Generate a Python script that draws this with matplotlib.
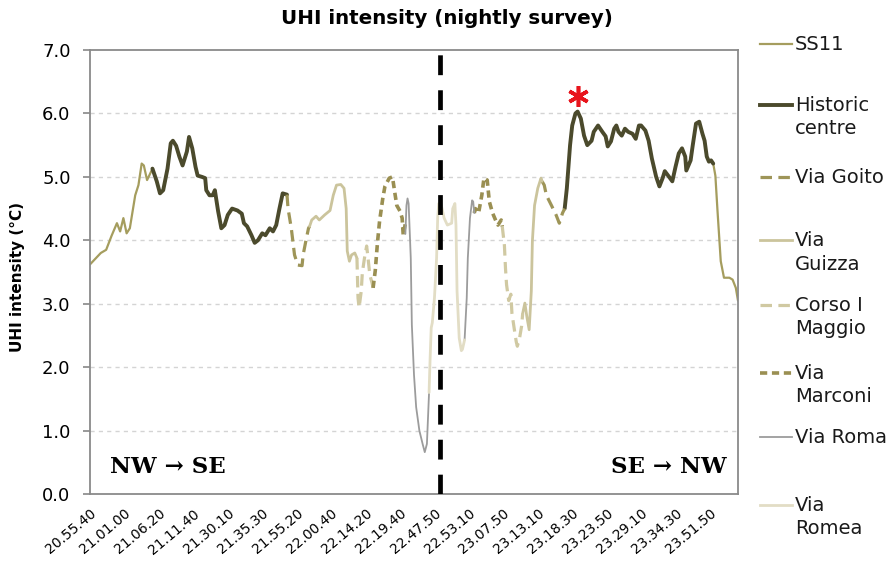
import numpy as np
import matplotlib
matplotlib.use("Agg")
import matplotlib.pyplot as plt
from matplotlib.lines import Line2D

nan = np.nan

# sample index (10 s steps) -> tick labels every 32 samples
tick_labels = ["20.55.40", "21.01.00", "21.06.20", "21.11.40", "21.30.10",
               "21.35.30", "21.55.20", "22.00.40", "22.14.20", "22.19.40",
               "22.47.50", "22.53.10", "23.07.50", "23.13.10", "23.18.30",
               "23.23.50", "23.29.10", "23.34.30", "23.51.50"]
n_samples = 602
divider_idx = 325

# each series: sample index / UHI value, NaN separates the outward and return leg
ss11_x = [0, 10, 15, 20, 25, 28, 31, 34, 37, 42, 45, 48, 50, 53, 55, 58,
          nan, 579, 581, 583, 586, 589, 594, 597, 600, 602]
ss11_y = [3.62, 3.8, 3.85, 4.07, 4.27, 4.14, 4.35, 4.11, 4.19, 4.71, 4.87, 5.21, 5.18, 4.95, 5.02, 5.13,
          nan, 5.21, 5.02, 4.46, 3.67, 3.41, 3.41, 3.38, 3.25, 3.05]

hist_x = [58, 62, 65, 68, 72, 75, 77, 80, 83, 86, 90, 92, 95, 98, 100, 104, 107, 108, 111, 114,
          116, 119, 122, 125, 128, 132, 137, 141, 143, 146, 150, 153, 156, 160, 163, 167, 170,
          173, 176, 179, 183,
          nan, 441, 443, 446, 448, 451, 453, 456, 459, 462, 466, 468, 472, 476, 479, 481, 484,
          487, 489, 491, 494, 497, 500, 504, 507, 510, 512, 516, 519, 522, 526, 529, 532, 534,
          538, 541, 544, 547, 550, 553, 554, 558, 560, 563, 566, 569, 571, 573, 575, 577, 579]
hist_y = [5.13, 4.93, 4.74, 4.79, 5.13, 5.53, 5.57, 5.49, 5.32, 5.18, 5.40, 5.63, 5.45, 5.16, 5.02,
          5.0, 4.98, 4.79, 4.71, 4.71, 4.79, 4.46, 4.19, 4.24, 4.40, 4.5, 4.47, 4.42, 4.27, 4.22,
          4.08, 3.96, 4.0, 4.11, 4.08, 4.19, 4.14, 4.24, 4.5, 4.74, 4.72,
          nan, 4.5, 4.82, 5.5, 5.81, 6.0, 6.03, 5.92, 5.65, 5.5, 5.57, 5.71, 5.81, 5.71, 5.64, 5.48,
          5.56, 5.76, 5.81, 5.71, 5.65, 5.76, 5.71, 5.68, 5.6, 5.81, 5.81, 5.73, 5.57, 5.29, 5.0,
          4.85, 4.98, 5.09, 5.0, 4.93, 5.16, 5.37, 5.45, 5.32, 5.1, 5.26, 5.5, 5.84, 5.87, 5.68,
          5.57, 5.32, 5.24, 5.26, 5.21]

goito_x = [183, 184, 187, 190, 193, 197, 198, 201, 203, 204,
           nan, 420, 422, 424, 429, 433, 436, 439, 441]
goito_y = [4.72, 4.5, 4.19, 3.77, 3.61, 3.6, 3.77, 4.03, 4.19, 4.22,
           nan, 4.93, 4.87, 4.71, 4.54, 4.4, 4.27, 4.43, 4.5]

guizza_x = [204, 206, 210, 213, 218, 223, 226, 229, 233, 236, 238, 239, 241, 243, 246, 248,
            nan, 402, 404, 406, 408, 410, 411, 413, 416, 419, 420]
guizza_y = [4.22, 4.32, 4.38, 4.32, 4.40, 4.47, 4.71, 4.87, 4.88, 4.82, 4.5, 3.83, 3.67, 3.77, 3.8, 3.72,
            nan, 2.85, 3.01, 2.78, 2.59, 3.2, 3.99, 4.55, 4.82, 4.98, 4.93]

corso_x = [248, 249, 250, 252, 253, 255, 257, 258, 260, 262, 263,
           nan, 383, 385, 386, 387, 389, 391, 392, 394, 396, 397, 399, 401, 402]
corso_y = [3.72, 3.09, 2.94, 3.2, 3.49, 3.72, 3.91, 3.77, 3.45, 3.33, 3.25,
           nan, 4.22, 3.92, 3.56, 3.3, 3.05, 3.15, 2.85, 2.62, 2.4, 2.33, 2.45, 2.65, 2.85]

marconi_x = [263, 265, 267, 269, 272, 274, 278, 281, 283, 285, 288, 290, 291, 293,
             nan, 357, 358, 361, 364, 366, 369, 371, 374, 378, 379, 382, 383]
marconi_y = [3.25, 3.52, 3.95, 4.3, 4.66, 4.85, 4.98, 5.0, 4.77, 4.55, 4.46, 4.35, 4.08, 4.27,
             nan, 4.43, 4.5, 4.43, 4.71, 4.98, 4.95, 4.61, 4.43, 4.27, 4.24, 4.32, 4.22]

roma_x = [293, 294, 295, 296, 298, 299, 301, 303, 306, 309, 311, 313, 315,
          nan, 348, 350, 351, 353, 355, 356, 357]
roma_y = [4.1, 4.55, 4.66, 4.58, 3.72, 2.67, 1.88, 1.37, 1.0, 0.79, 0.66, 0.79, 1.6,
          nan, 2.43, 3.09, 3.72, 4.35, 4.63, 4.61, 4.43]

romea_x = [315, 316, 317, 318, 320, 322, 323, 324, 326, 329, 332, 336, 337, 339, 340, 341,
           343, 345, 346, 348]
romea_y = [1.6, 2.15, 2.62, 2.70, 3.09, 3.72, 4.35, 4.58, 4.58, 4.35, 4.24, 4.27, 4.5, 4.58,
           4.24, 3.2, 2.46, 2.26, 2.28, 2.43]

series = [
    ("SS11", ss11_x, ss11_y, "#a59d5e", 1.6, "-"),
    ("Historic\ncentre", hist_x, hist_y, "#4b4a2c", 2.8, "-"),
    ("Via Goito", goito_x, goito_y, "#9e9558", 2.3, (0, (3.6, 2.0))),
    ("Via\nGuizza", guizza_x, guizza_y, "#cbc49c", 2.0, "-"),
    ("Corso I\nMaggio", corso_x, corso_y, "#d0c9a2", 2.3, (0, (3.6, 2.0))),
    ("Via\nMarconi", marconi_x, marconi_y, "#9a8f52", 2.6, (0, (2.0, 1.3))),
    ("Via Roma", roma_x, roma_y, "#9c9c9c", 1.3, "-"),
    ("Via\nRomea", romea_x, romea_y, "#e2ddc5", 2.0, "-"),
]

fig = plt.figure(figsize=(8.93, 5.64), dpi=100)
ax = fig.add_axes([0.1008, 0.1241, 0.7256, 0.7872])

for y in range(1, 7):
    ax.axhline(y, color="#d4d4d4", lw=1.0, ls=(0, (3, 3)), zorder=0)

# plot lighter lines first so the dark ones sit on top
order = [7, 6, 3, 4, 0, 2, 5, 1]
for k in order:
    name, xs, ys, col, lw, ls = series[k]
    ax.plot(xs, ys, color=col, lw=lw, ls=ls, solid_capstyle="round",
            dash_capstyle="butt", zorder=2 + k * 0.1)

ax.axvline(divider_idx, color="black", lw=3.4, ls=(0, (4.2, 3.2)), zorder=5)

# peak marker
hy = np.array(hist_y, dtype=float)
ipk = int(np.nanargmax(hy))
ax.plot(hist_x[ipk], hy[ipk] + 0.25, marker=(6, 2, 0), ms=15, mew=2.6,
        color="#e8141c", zorder=6)

ax.text(0.031, 0.061, "NW \u2192 SE", transform=ax.transAxes, fontsize=16.5,
        fontweight="bold", family="DejaVu Serif", va="center", ha="left")
ax.text(0.983, 0.061, "SE \u2192 NW", transform=ax.transAxes, fontsize=16.5,
        fontweight="bold", family="DejaVu Serif", va="center", ha="right")

ax.set_xlim(0, n_samples)
ax.set_ylim(0, 7)
ax.set_yticks(np.arange(0, 7.01, 1.0))
ax.set_yticklabels([f"{v:.1f}" for v in np.arange(0, 7.01, 1.0)], fontsize=13)
ax.set_xticks(np.arange(len(tick_labels)) * 32)
ax.set_xticklabels(tick_labels, rotation=40, ha="right", rotation_mode="anchor",
                   fontsize=10)
ax.tick_params(axis="y", direction="out", length=5, width=1.2, color="#888888",
               pad=9)
ax.tick_params(axis="x", length=0, pad=9)
for sp in ax.spines.values():
    sp.set_color("#8a8a8a")
    sp.set_linewidth(1.3)

W, H = 893.0, 564.0
fig.text(18 / W, 1 - 277 / H, "UHI intensity (\u00b0C)", fontsize=11,
         fontweight="bold", rotation=90, va="center", ha="center")
fig.text(0.5, 1 - 18 / H, "UHI intensity (nightly survey)", fontsize=14.3,
         fontweight="bold", va="center", ha="center")

# legend, drawn by hand to follow the uneven spacing of the original
leg_rows = [44, 105, 177, 240, 305, 373, 437, 505]
for (name, xs, ys, col, lw, ls), yp in zip(series, leg_rows):
    yf = 1 - yp / H
    fig.add_artist(Line2D([760 / W, 792 / W], [yf, yf], color=col, lw=lw, ls=ls,
                          transform=fig.transFigure))
    fig.text(795 / W, 1 - (yp - 9) / H, name, fontsize=14, va="top", ha="left",
             linespacing=1.3, color="#1a1a1a")

fig.savefig("out.png", dpi=100)
